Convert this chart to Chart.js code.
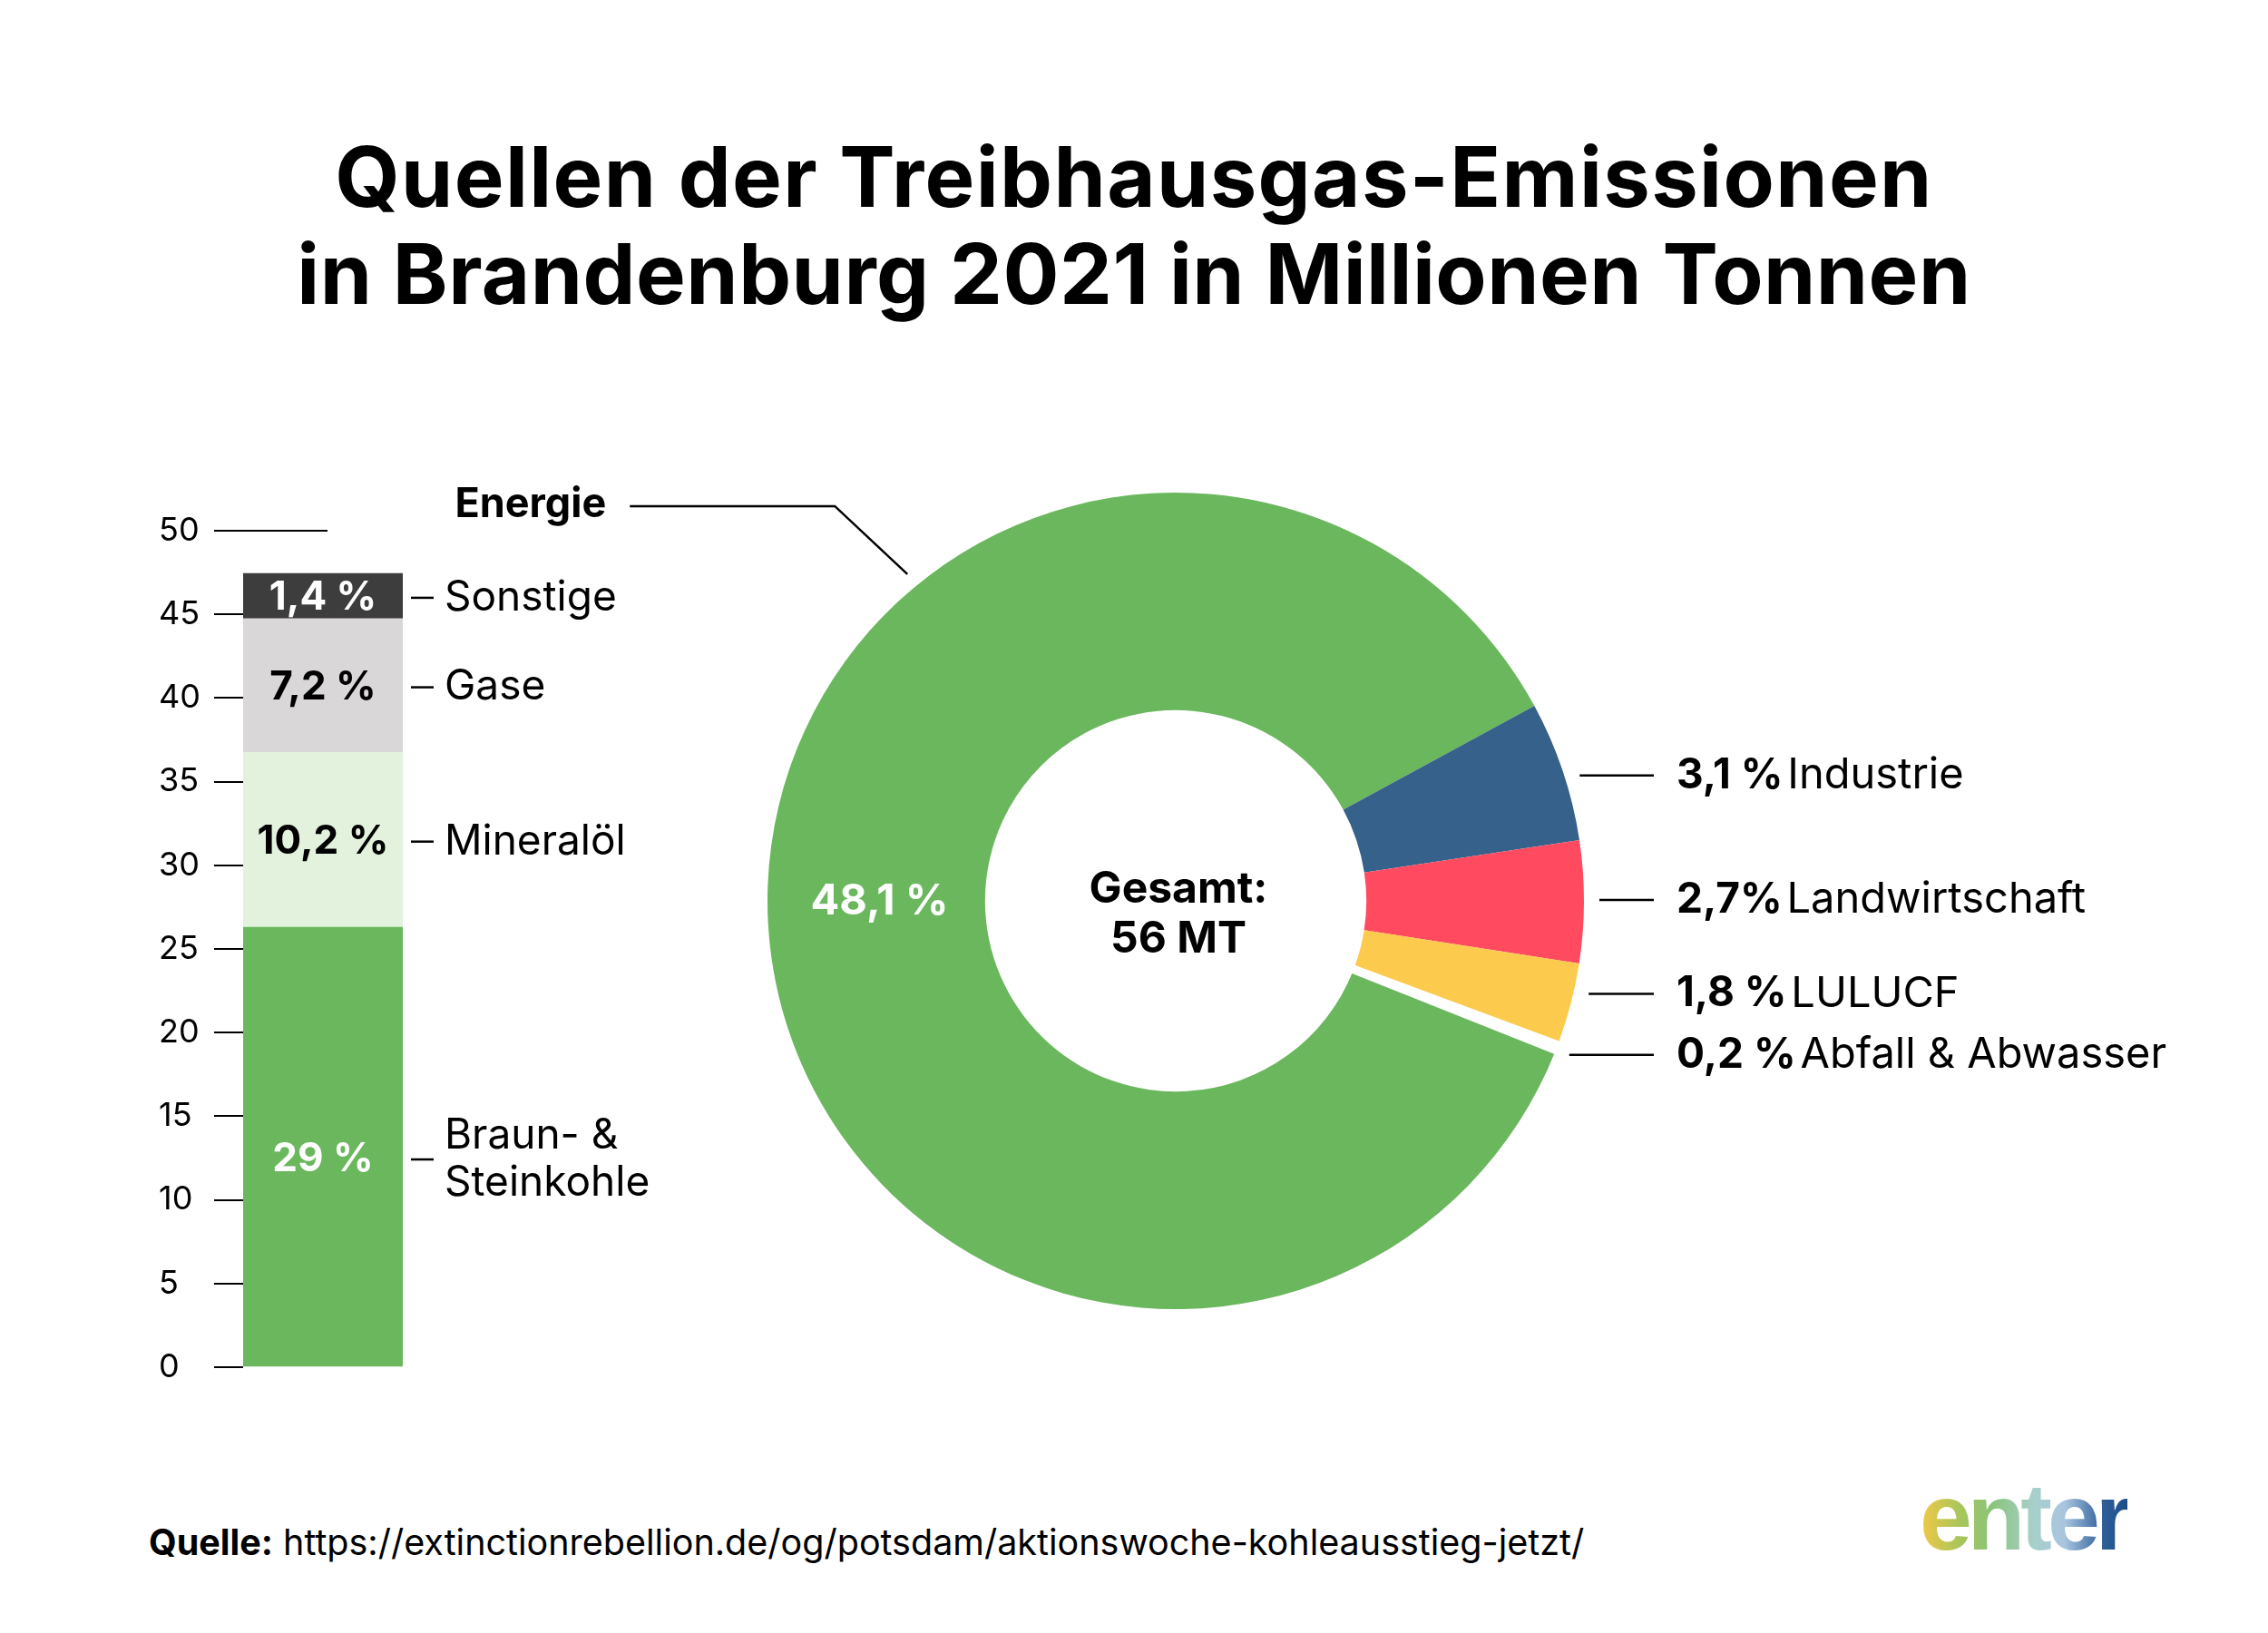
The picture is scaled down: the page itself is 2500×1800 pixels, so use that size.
<!DOCTYPE html>
<html lang="de">
<head>
    <meta charset="UTF-8">
    <title>Quellen der Treibhausgas-Emissionen in Brandenburg 2021</title>
    <script src="https://cdn.jsdelivr.net/npm/chart.js"></script>
    <style>
        html, body {
            margin: 0;
            padding: 0;
            background: #fff;
        }
        body {
            position: relative;
            width: 2500px;
            height: 1800px;
            overflow: hidden;
            font-family: Inter, "Noto Sans", sans-serif;
            color: #000;
        }
        .title {
            position: absolute;
            left: 0;
            top: 141px;
            width: 2500px;
            text-align: center;
            font-weight: 700;
            font-size: 92px;
            line-height: 107px;
            letter-spacing: 0.5px;
        }
        .title .l1 { letter-spacing: 1.4px; }
        #barWrap {
            position: absolute;
            left: 175px;
            top: 520px;
            width: 600px;
            height: 1040px;
        }
        #donutWrap {
            position: absolute;
            left: 460px;
            top: 480px;
            width: 2040px;
            height: 1020px;
        }
        .source {
            position: absolute;
            left: 164px;
            top: 1680px;
            font-size: 39.5px;
            line-height: 40px;
            white-space: nowrap;
        }
        .logo {
            position: absolute;
            left: 2116px;
            top: 1620px;
            font-family: "Liberation Sans", Arial, sans-serif;
            font-weight: 700;
            font-size: 104px;
            line-height: 104px;
            letter-spacing: -5px;
            background: linear-gradient(90deg, #f3c845 0%, #a6c65c 20%, #8ac47b 35%, #a7d0cb 55%, #a9c4e0 70%, #2f5f98 88%, #1c4d86 100%);
            -webkit-background-clip: text;
            background-clip: text;
            color: transparent;
        }
    </style>
</head>
<body>
    <div class="title"><span class="l1">Quellen der Treibhausgas-Emissionen</span><br>in Brandenburg 2021 in Millionen Tonnen</div>
    <div id="barWrap"><canvas id="barChart"></canvas></div>
    <div id="donutWrap"><canvas id="donutChart"></canvas></div>
    <div class="source"><b>Quelle:</b> https://extinctionrebellion.de/og/potsdam/aktionswoche-kohleausstieg-jetzt/</div>
    <div class="logo">enter</div>
    <script>
        // Energie, split by fuel (stacked bar, left)
        const barCategory = ['Energie'];
        const barSources = ['Braun- &\nSteinkohle', 'Mineralöl', 'Gase', 'Sonstige'];
        const barValues = [26.3, 10.45, 8.0, 2.7];
        const barShares = ['29 %', '10,2 %', '7,2 %', '1,4 %'];
        const yMin = 0;
        const yMax = 50;
        const yStep = 5;

        // all sectors (doughnut, right)
        const sectors = ['Energie', 'Industrie', 'Landwirtschaft', 'LULUCF', 'Abfall & Abwasser'];
        const sectorValues = [48.1, 3.1, 2.7, 1.8, 0.2];
        const sectorShares = ['48,1 %', '3,1 %', '2,7%', '1,8 %', '0,2 %'];
        const totalLines = ['Gesamt:', '56 MT'];

        const barColors = ['#6ab75d', '#e2f2dd', '#d9d7d8', '#3d3d3d'];
        const barTextColors = ['#ffffff', '#000000', '#000000', '#ffffff'];
        const sectorColors = ['#6ab75d', '#36618b', '#ff4a60', '#fcca4c', '#ffffff'];

        const FONT = 'Inter, "Noto Sans", sans-serif';

        Chart.defaults.font.family = FONT;
        Chart.defaults.color = '#000';

        // --- stacked bar ---
        const barLabels = {
            id: 'barLabels',
            beforeDatasetsDraw(chart) {
                // long grid strokes that run behind the bar
                const { ctx, chartArea, scales: { y } } = chart;
                ctx.save();
                ctx.strokeStyle = '#000';
                ctx.lineWidth = 2;
                y.ticks.forEach(t => {
                    if (t.value === yMin) return;
                    const py = Math.round(y.getPixelForValue(t.value));
                    ctx.beginPath();
                    ctx.moveTo(chartArea.left, py);
                    ctx.lineTo(chartArea.left + 93, py);
                    ctx.stroke();
                });
                ctx.restore();
            },
            afterDatasetsDraw(chart) {
                const { ctx } = chart;
                ctx.save();
                chart.data.datasets.forEach((ds, i) => {
                    const bar = chart.getDatasetMeta(i).data[0];
                    const right = bar.x + bar.width / 2;
                    let cy = (bar.y + bar.base) / 2 + 2;
                    if (i === 0) cy += 12;

                    ctx.font = '700 44px ' + FONT;
                    ctx.fillStyle = barTextColors[i];
                    ctx.textAlign = 'center';
                    ctx.textBaseline = 'middle';
                    ctx.fillText(barShares[i], bar.x, cy);

                    ctx.strokeStyle = '#000';
                    ctx.lineWidth = 2.5;
                    ctx.beginPath();
                    ctx.moveTo(right + 9, cy);
                    ctx.lineTo(right + 34, cy);
                    ctx.stroke();

                    ctx.font = '400 46px ' + FONT;
                    ctx.fillStyle = '#000';
                    ctx.textAlign = 'left';
                    const lines = barSources[i].split('\n');
                    lines.forEach((line, k) => {
                        const off = (k - (lines.length - 1) / 2) * 52;
                        ctx.fillText(line, right + 46, cy + off);
                    });
                });
                ctx.restore();
            }
        };

        new Chart(document.getElementById('barChart'), {
            type: 'bar',
            data: {
                labels: barCategory,
                datasets: barSources.map((name, i) => ({
                    label: name,
                    data: [barValues[i]],
                    backgroundColor: barColors[i],
                    borderWidth: 0,
                    barPercentage: 1,
                    categoryPercentage: 1
                }))
            },
            options: {
                responsive: true,
                maintainAspectRatio: false,
                animation: false,
                layout: { padding: { top: 65, right: 331, bottom: 53, left: 0 } },
                plugins: {
                    legend: { display: false },
                    tooltip: { enabled: false }
                },
                scales: {
                    x: { stacked: true, display: false },
                    y: {
                        stacked: true,
                        min: yMin,
                        max: yMax,
                        ticks: {
                            stepSize: yStep,
                            crossAlign: 'far',
                            font: { size: 36 },
                            color: '#000'
                        },
                        grid: {
                            drawOnChartArea: false,
                            drawTicks: true,
                            tickLength: 32,
                            color: '#000',
                            lineWidth: 2
                        },
                        border: { display: false },
                        afterFit(scale) { scale.width = 93; }
                    }
                }
            },
            plugins: [barLabels]
        });

        // --- doughnut ---
        const donutLabels = {
            id: 'donutLabels',
            afterDraw(chart) {
                const { ctx } = chart;
                const arcs = chart.getDatasetMeta(0).data;
                const { x: cx, y: cy, outerRadius: R } = arcs[0];
                ctx.save();

                // total in the hole
                ctx.font = '700 48px ' + FONT;
                ctx.fillStyle = '#000';
                ctx.textAlign = 'center';
                ctx.textBaseline = 'middle';
                ctx.fillText(totalLines[0], cx + 3, cy - 12);
                ctx.fillText(totalLines[1], cx + 3, cy + 43);

                // share on the big slice
                const p = arcs[0].tooltipPosition();
                ctx.fillStyle = '#fff';
                ctx.font = '700 47px ' + FONT;
                ctx.fillText(sectorShares[0], p.x + 3, cy + 1);

                // Energie label with bent leader
                const a = 230.6 * Math.PI / 180;
                const ex = cx + (R + 16) * Math.cos(a);
                const ey = cy + (R + 16) * Math.sin(a);
                ctx.strokeStyle = '#000';
                ctx.lineWidth = 2.5;
                ctx.beginPath();
                ctx.moveTo(ex, ey);
                ctx.lineTo(ex - 80, ey - 75);
                ctx.lineTo(ex - 306, ey - 75);
                ctx.stroke();
                ctx.font = '700 45px ' + FONT;
                ctx.fillStyle = '#000';
                ctx.textAlign = 'right';
                ctx.fillText(sectors[0], ex - 332, ey - 76);

                // small slices on the right
                const nudge = [0, 5, -2, -11, 8];
                for (let i = 1; i < arcs.length; i++) {
                    const arc = arcs[i];
                    const mid = (arc.startAngle + arc.endAngle) / 2;
                    const ly = cy + R * Math.sin(mid) + nudge[i];
                    const dy = ly - cy;
                    const x0 = cx + Math.sqrt(Math.max(R * R - dy * dy, 0)) + 17;
                    ctx.beginPath();
                    ctx.moveTo(x0, ly);
                    ctx.lineTo(cx + 527, ly);
                    ctx.stroke();

                    ctx.textAlign = 'left';
                    ctx.font = '700 46px ' + FONT;
                    const tx = cx + 552;
                    ctx.fillText(sectorShares[i], tx, ly);
                    const w = ctx.measureText(sectorShares[i] + ' ').width;
                    ctx.font = '400 47px ' + FONT;
                    ctx.fillText(sectors[i], tx + w - 6, ly);
                }
                ctx.restore();
            }
        };

        new Chart(document.getElementById('donutChart'), {
            type: 'doughnut',
            data: {
                labels: sectors,
                datasets: [{
                    data: sectorValues,
                    backgroundColor: sectorColors,
                    borderColor: '#ffffff',
                    borderWidth: [0, 0, 0, 0, 5]
                }]
            },
            options: {
                responsive: true,
                maintainAspectRatio: false,
                animation: false,
                rotation: 111.7,
                radius: 450,
                cutout: 209,
                layout: { padding: { top: 63, right: 754, bottom: 57, left: 386 } },
                plugins: {
                    legend: { display: false },
                    tooltip: { enabled: false }
                }
            },
            plugins: [donutLabels]
        });
    </script>
</body>
</html>
